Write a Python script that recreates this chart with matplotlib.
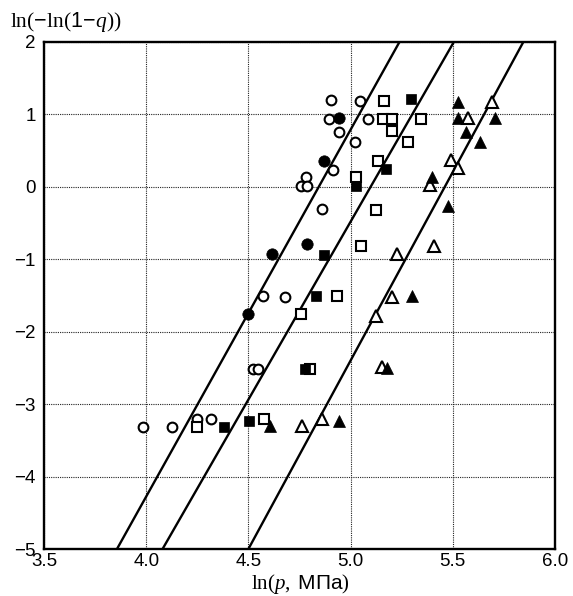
import matplotlib
matplotlib.use("Agg")
import matplotlib.pyplot as plt

plt.rcParams['mathtext.fontset'] = 'custom'
plt.rcParams['mathtext.rm'] = 'Liberation Serif'
plt.rcParams['mathtext.it'] = 'Liberation Serif:italic'
plt.rcParams['mathtext.sf'] = 'Liberation Sans'

# ---- data ----
open_circle_x = [4.904, 5.046, 4.896, 5.087, 4.945, 5.020, 4.915, 4.780, 4.757, 4.785,
                 4.858, 4.573, 4.679, 4.524, 4.545, 3.986, 4.128, 4.247, 4.317]
open_circle_y = [1.20, 1.19, 0.94, 0.94, 0.76, 0.615, 0.233, 0.13, 0.01, 0.01,
                 -0.31, -1.50, -1.52, -2.51, -2.51, -3.31, -3.31, -3.21, -3.20]

filled_circle_x = [4.945, 4.870, 4.788, 4.614, 4.497]
filled_circle_y = [0.95, 0.36, -0.79, -0.93, -1.76]

open_square_x = [5.165, 5.160, 5.204, 5.343, 5.204, 5.279, 5.134, 5.026, 5.123, 5.051,
                 4.932, 4.757, 4.801, 4.247, 4.576]
open_square_y = [1.19, 0.94, 0.94, 0.94, 0.775, 0.615, 0.36, 0.14, -0.32, -0.81,
                 -1.51, -1.76, -2.51, -3.31, -3.20]

filled_square_x = [5.296, 5.172, 5.026, 4.870, 4.831, 4.778, 4.382, 4.503]
filled_square_y = [1.21, 0.25, 0.01, -0.94, -1.51, -2.51, -3.31, -3.23]

open_tri_x = [5.690, 5.573, 5.491, 5.527, 5.388, 5.409, 5.228, 5.201, 5.124, 5.152, 4.761, 4.862]
open_tri_y = [1.17, 0.95, 0.37, 0.26, 0.03, -0.81, -0.93, -1.52, -1.78, -2.49, -3.30, -3.21]

filled_tri_x = [5.524, 5.524, 5.707, 5.563, 5.633, 5.400, 5.478, 5.299, 5.176, 4.606, 4.945]
filled_tri_y = [1.17, 0.95, 0.95, 0.76, 0.62, 0.14, -0.27, -1.50, -2.50, -3.30, -3.23]

line1_x = [3.857, 5.239]
line2_x = [4.080, 5.505]
line3_x = [4.500, 5.845]
line_y = [-5.0, 2.0]

xticks = [3.5, 4.0, 4.5, 5.0, 5.5, 6.0]
xtick_labels = ['3.5', '4.0', '4.5', '5.0', '5.5', '6.0']
yticks = [2, 1, 0, -1, -2, -3, -4, -5]

# ---- figure ----
fig = plt.figure(figsize=(5.73, 5.96), dpi=100)
ax = fig.add_axes([44/573, 47/596, 511/573, 507/596])
ax.set_xlim(3.5, 6.0)
ax.set_ylim(-5, 2)

for xs in (line1_x, line2_x, line3_x):
    ax.plot(xs, line_y, color='black', lw=1.7, zorder=2, solid_capstyle='butt')

ax.grid(True, color='#222222', linestyle=(0, (1, 1)), linewidth=0.8)
ax.set_axisbelow(True)

mew = 1.5
ax.plot(open_circle_x, open_circle_y, 'o', ms=7.0, mfc='white', mec='black', mew=mew, zorder=3)
ax.plot(filled_circle_x, filled_circle_y, 'o', ms=8.2, mfc='black', mec='black', mew=0.5, zorder=4)
ax.plot(open_square_x, open_square_y, 's', ms=6.6, mfc='white', mec='black', mew=mew, zorder=3)
ax.plot(filled_square_x, filled_square_y, 's', ms=7.8, mfc='black', mec='black', mew=0.5, zorder=4)
ax.plot(open_tri_x, open_tri_y, '^', ms=8.2, mfc='white', mec='black', mew=mew, zorder=3)
ax.plot(filled_tri_x, filled_tri_y, '^', ms=9.2, mfc='black', mec='black', mew=0.5, zorder=4)

ax.set_xticks(xticks)
ax.set_xticklabels(xtick_labels)
ax.set_yticks(yticks)
ax.tick_params(length=0, labelsize=13.5)
ax.tick_params(axis='x', pad=3)
ax.tick_params(axis='y', pad=6)
for lab in ax.get_xticklabels() + ax.get_yticklabels():
    lab.set_family('Liberation Sans')

for sp in ax.spines.values():
    sp.set_linewidth(1.7)
    sp.set_color('black')

fig.text(10/573, 1 - 22/596, r'$\mathrm{ln}(\mathsf{-}\mathrm{ln}(\mathsf{1\!-\!}q))$',
         fontsize=15.5, ha='left', va='center')
fig.text(300/573, 1 - 584/596, r'$\mathrm{ln}(p,\ \mathsf{МПа})$',
         fontsize=15, ha='center', va='center')

fig.savefig('out.png', dpi=100)
